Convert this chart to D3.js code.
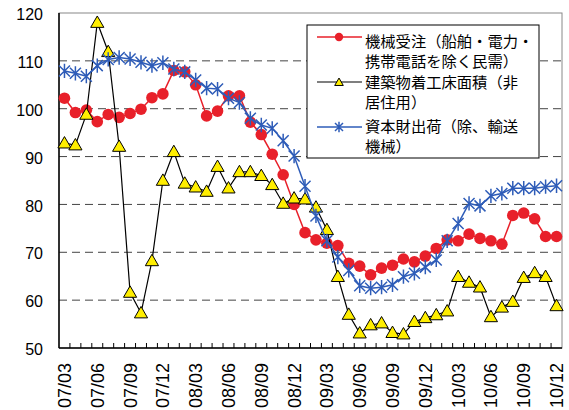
<!DOCTYPE html>
<html>
<head>
<meta charset="utf-8">
<script src="https://cdn.jsdelivr.net/npm/d3@7"></script>
<style>
  body { margin: 0; background: #fff; }
  svg { display: block; }
</style>
</head>
<body>
<div id="chart"></div>
<script>
// months, 2007/03 .. 2010/12
const months = [
  '07/03','07/04','07/05','07/06','07/07','07/08','07/09','07/10','07/11','07/12',
  '08/01','08/02','08/03','08/04','08/05','08/06','08/07','08/08','08/09','08/10','08/11','08/12',
  '09/01','09/02','09/03','09/04','09/05','09/06','09/07','09/08','09/09','09/10','09/11','09/12',
  '10/01','10/02','10/03','10/04','10/05','10/06','10/07','10/08','10/09','10/10','10/11','10/12'
]
const tickLabels = ['07/03','07/06','07/09','07/12','08/03','08/06','08/09','08/12',
  '09/03','09/06','09/09','09/12','10/03','10/06','10/09','10/12']
const yTicks = [50, 60, 70, 80, 90, 100, 110, 120]

// 機械受注
const orders = [102.2, 99.2, 99.7, 97.3, 98.8, 98.2, 99.0, 99.9, 102.3, 103.1,
  108.0, 107.7, 105.0, 98.5, 99.5, 102.7, 102.7, 97.2, 94.6, 90.5, 86.2, 80.0,
  74.1, 72.6, 71.9, 71.4, 67.7, 67.1, 65.3, 66.7, 67.3, 68.6, 68.0, 69.2,
  70.8, 72.6, 72.4, 73.8, 72.9, 72.4, 71.7, 77.7, 78.2, 77.0, 73.3, 73.3]
// 建築物着工床面積
const floorArea = [92.8, 92.4, 98.8, 118.0, 111.9, 92.1, 61.6, 57.3, 68.2, 85.0,
  91.0, 84.4, 83.6, 82.7, 87.9, 83.4, 86.8, 86.8, 86.0, 84.1, 80.2, 81.3,
  81.1, 79.4, 74.7, 64.9, 57.0, 53.1, 54.8, 55.2, 53.2, 52.9, 55.5, 56.3,
  56.9, 57.7, 64.9, 63.7, 62.7, 56.5, 58.5, 59.7, 64.7, 65.7, 64.9, 58.8]
// 資本財出荷
const shipments = [107.9, 107.4, 106.8, 109.0, 110.3, 110.7, 110.4, 109.7, 109.0, 109.6,
  108.3, 107.7, 106.0, 104.3, 104.1, 102.2, 101.3, 98.0, 96.6, 95.9, 93.3, 90.1,
  83.8, 77.6, 72.4, 69.0, 66.2, 63.0, 62.5, 62.7, 63.2, 64.9, 65.6, 66.9,
  68.4, 72.4, 76.0, 80.2, 79.7, 81.8, 82.3, 83.4, 83.4, 83.4, 83.7, 83.9]

const legendLines = [
  ['機械受注（船舶・電力・', '携帯電話を除く民需）'],
  ['建築物着工床面積（非', '居住用）'],
  ['資本財出荷（除、輸送', '機械）']
]

const width = 569, height = 410
const margin = {top: 13, right: 7, bottom: 62, left: 59}
const w = width - margin.left - margin.right
const h = height - margin.top - margin.bottom

const svg = d3.select('#chart').append('svg')
  .attr('width', width)
  .attr('height', height)
  .style('font-family', '"Liberation Sans", Arial, sans-serif')
const g = svg.append('g')
  .attr('transform', 'translate(' + margin.left + ',' + margin.top + ')')

const x = d3.scaleBand().domain(months).range([0, w])
const y = d3.scaleLinear().domain([50, 120]).range([h, 0])
const cx = d => x(d) + x.bandwidth() / 2

// frame (gray top/right)
g.append('rect')
  .attr('width', w).attr('height', h)
  .attr('fill', 'none').attr('stroke', '#888').attr('stroke-width', 1)

// grid
g.append('g').selectAll('line')
  .data(yTicks.filter(v => v > 50 && v < 120))
  .enter().append('line')
  .attr('x1', 0).attr('x2', w)
  .attr('y1', d => y(d)).attr('y2', d => y(d))
  .attr('stroke', '#444').attr('stroke-width', 1)
  .attr('stroke-dasharray', '8,5')

// y axis
g.append('line').attr('x1', 0).attr('x2', 0).attr('y1', 0).attr('y2', h)
  .attr('stroke', '#000').attr('stroke-width', 1.5)
g.append('g').selectAll('text')
  .data(yTicks).enter().append('text')
  .attr('x', -16).attr('y', d => y(d)).attr('dy', '0.45em')
  .attr('text-anchor', 'end').attr('font-size', 16)
  .text(d => d)

// x axis
g.append('line').attr('x1', 0).attr('x2', w).attr('y1', h).attr('y2', h)
  .attr('stroke', '#000').attr('stroke-width', 1.5)
g.append('g').selectAll('line')
  .data(months.slice(1)).enter().append('line')
  .attr('x1', d => x(d)).attr('x2', d => x(d))
  .attr('y1', h).attr('y2', h - 5)
  .attr('stroke', '#000').attr('stroke-width', 1)
g.append('g').selectAll('text')
  .data(tickLabels).enter().append('text')
  .attr('transform', d => 'translate(' + cx(d) + ',' + (h + 15) + ') rotate(-90)')
  .attr('dy', '0.36em')
  .attr('text-anchor', 'end').attr('font-size', 18)
  .text(d => d)

const line = d3.line().x((d, i) => cx(months[i])).y(d => y(d))

// red series
g.append('path').datum(orders).attr('d', line)
  .attr('fill', 'none').attr('stroke', '#e8202a').attr('stroke-width', 1.5)
g.append('g').selectAll('circle')
  .data(orders).enter().append('circle')
  .attr('cx', (d, i) => cx(months[i])).attr('cy', d => y(d))
  .attr('r', 5.8).attr('fill', '#e8202a')

// triangles
const tri = d3.symbol().type(d3.symbolTriangle).size(75)
const triSmall = d3.symbol().type(d3.symbolTriangle).size(32)
g.append('path').datum(floorArea).attr('d', line)
  .attr('fill', 'none').attr('stroke', '#000').attr('stroke-width', 1.2)
g.append('g').selectAll('path')
  .data(floorArea).enter().append('path')
  .attr('d', tri)
  .attr('transform', (d, i) => 'translate(' + cx(months[i]) + ',' + (y(d) + 1) + ')')
  .attr('fill', '#ffee00').attr('stroke', '#000').attr('stroke-width', 1)

// blue asterisks
function star(sel, s) {
  sel.append('path')
    .attr('d', 'M' + (-s) + ',' + (-s) + 'L' + s + ',' + s + 'M' + (-s) + ',' + s + 'L' + s + ',' + (-s) +
      'M0,' + (-s * 1.3) + 'L0,' + (s * 1.3))
    .attr('stroke', '#2e5cb8').attr('stroke-width', 1.5).attr('fill', 'none')
}
g.append('path').datum(shipments).attr('d', line)
  .attr('fill', 'none').attr('stroke', '#2e5cb8').attr('stroke-width', 1.5)
g.append('g').selectAll('g')
  .data(shipments).enter().append('g')
  .attr('transform', (d, i) => 'translate(' + cx(months[i]) + ',' + y(d) + ')')
  .call(star, 5.5)

// legend
const lg = svg.append('g').attr('transform', 'translate(307,25)')
lg.append('rect').attr('width', 232).attr('height', 133)
  .attr('fill', '#fff').attr('stroke', '#000').attr('stroke-width', 1)
const markY = [12, 57, 102]
const textY = [17, 58, 102]
const legendRows = lg.selectAll('.row').data(legendLines).enter().append('g')
  .attr('class', 'row')
legendRows.append('line').attr('x1', 10).attr('x2', 55)
  .attr('y1', (d, i) => markY[i]).attr('y2', (d, i) => markY[i])
  .attr('stroke', (d, i) => ['#e8202a', '#000', '#2e5cb8'][i])
  .attr('stroke-width', (d, i) => i === 1 ? 1.2 : 1.5)
legendRows.each(function(d, i) {
  const r = d3.select(this)
  if (i === 0) {
    r.append('circle').attr('cx', 32).attr('cy', markY[i]).attr('r', 4.2).attr('fill', '#e8202a')
  } else if (i === 1) {
    r.append('path').attr('d', triSmall).attr('transform', 'translate(32,' + (markY[i] + 1) + ')')
      .attr('fill', '#ffee00').attr('stroke', '#000')
  } else {
    r.append('g').attr('transform', 'translate(32,' + markY[i] + ')').call(star, 4)
  }
})
legendRows.each(function(d, i) {
  d3.select(this).selectAll('text').data(d).enter().append('text')
    .attr('x', 58).attr('y', (t, j) => textY[i] + j * 20).attr('dy', '0.35em')
    .attr('font-family', '"Noto Sans CJK JP", sans-serif')
    .attr('font-size', 15.3)
    .text(t => t)
})
</script>
</body>
</html>
